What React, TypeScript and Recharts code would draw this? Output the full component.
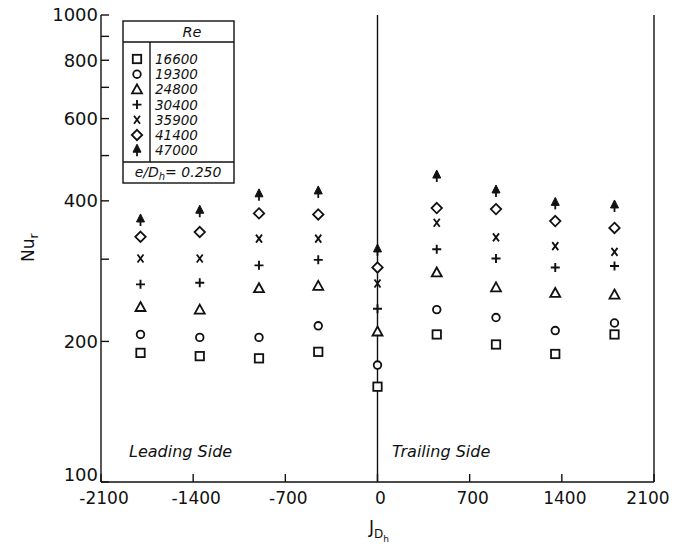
import React from "react";
import { ScatterChart, Scatter, XAxis, YAxis, ReferenceLine } from "recharts";

// rotation parameter J_Dh (leading side negative, trailing side positive)
const J_POS = [-1800, -1350, -900, -450, 0, 450, 900, 1350, 1800];

// Nu_r, one array per Reynolds number
const NU_16600 = [189, 186, 184, 190, 160, 207, 197, 188, 207];
const NU_19300 = [207, 204, 204, 216, 178, 234, 225, 211, 219];
const NU_24800 = [237, 234, 260, 263, 210, 281, 261, 254, 252];
const NU_30400 = [265, 267, 291, 299, 235, 315, 301, 288, 290];
const NU_35900 = [301, 301, 332, 332, 266, 359, 334, 320, 311];
const NU_41400 = [335, 343, 376, 374, 288, 386, 384, 362, 350];
const NU_47000 = [364, 380, 412, 418, 314, 452, 420, 395, 390];

const RE_LABELS = ["16600", "19300", "24800", "30400", "35900", "41400", "47000"];
const X_TICKS = [-2100, -1400, -700, 0, 700, 1400, 2100];
const Y_TICKS = [100, 200, 300, 400, 500, 600, 700, 800, 900, 1000];
const Y_LABELED = [100, 200, 400, 600, 800, 1000];

type Kind = "square" | "circle" | "triangle" | "plus" | "cross" | "diamond" | "arrow";
const KINDS: Kind[] = ["square", "circle", "triangle", "plus", "cross", "diamond", "arrow"];
const SERIES = [NU_16600, NU_19300, NU_24800, NU_30400, NU_35900, NU_41400, NU_47000];

const INK = "#111";
const FONT = "'DejaVu Sans', sans-serif";

function Glyph({ cx, cy, kind }: { cx: number; cy: number; kind: Kind }) {
  const s = { stroke: INK, strokeWidth: 1.8, fill: "#fff" };
  switch (kind) {
    case "square":
      return <rect x={cx - 4.2} y={cy - 4.2} width={8.4} height={8.4} {...s} />;
    case "circle":
      return <circle cx={cx} cy={cy} r={3.8} {...s} />;
    case "triangle":
      return <path d={`M${cx},${cy - 5} L${cx + 5},${cy + 4} L${cx - 5},${cy + 4} Z`} {...s} />;
    case "plus":
      return <path d={`M${cx - 4.5},${cy} H${cx + 4.5} M${cx},${cy - 4.5} V${cy + 4.5}`} stroke={INK} strokeWidth={1.9} />;
    case "cross":
      return <path d={`M${cx - 3},${cy - 4} L${cx + 3},${cy + 4} M${cx + 3},${cy - 4} L${cx - 3},${cy + 4}`} stroke={INK} strokeWidth={1.8} />;
    case "diamond":
      return <path d={`M${cx},${cy - 5.2} L${cx + 5.2},${cy} L${cx},${cy + 5.2} L${cx - 5.2},${cy} Z`} {...s} />;
    case "arrow":
      return (
        <g>
          <path d={`M${cx},${cy - 6} L${cx + 4},${cy + 2} L${cx - 4},${cy + 2} Z`} fill={INK} stroke={INK} strokeWidth={1} />
          <line x1={cx} x2={cx} y1={cy} y2={cy + 6} stroke={INK} strokeWidth={1.8} />
        </g>
      );
  }
  return null;
}

function Legend() {
  const rowY = (i: number) => 59 + i * 15.2;
  return (
    <g fontFamily={FONT} fontStyle="italic" fontSize={13.5} fill={INK}>
      <rect x={123} y={21} width={111} height={162} fill="#fff" stroke={INK} strokeWidth={1.4} />
      <line x1={123} x2={234} y1={42} y2={42} stroke={INK} strokeWidth={1.4} />
      <line x1={150} x2={150} y1={42} y2={162} stroke={INK} strokeWidth={1.4} />
      <line x1={123} x2={234} y1={162} y2={162} stroke={INK} strokeWidth={1.4} />
      <text x={192} y={37} textAnchor="middle" fontSize={14.5}>Re</text>
      {RE_LABELS.map((re, i) => (
        <g key={re}>
          <Glyph cx={137} cy={rowY(i)} kind={KINDS[i]} />
          <text x={155} y={rowY(i) + 5}>{re}</text>
        </g>
      ))}
      <text x={178} y={177} textAnchor="middle" fontSize={14}>
        e/D<tspan dy={3} fontSize={10}>h</tspan>
        <tspan dy={-3}>= 0.250</tspan>
      </text>
    </g>
  );
}

// bottom tick labels sit a touch right of the tick; the last one is kept inside the page
function XTick({ x, y, payload }: any) {
  const v = payload.value as number;
  const shift = v === 2100 ? -6 : 3;
  return (
    <text x={x + shift} y={y} dy="0.75em" textAnchor="middle" fill={INK} fontSize={17} fontFamily={FONT}>
      {String(v)}
    </text>
  );
}

// only some log ticks carry a number; "100" is lifted clear of the x labels
function YTick({ x, y, payload }: any) {
  const v = payload.value as number;
  if (!Y_LABELED.includes(v)) return <g />;
  return (
    <text x={x} y={y + (v === 100 ? -7 : 0)} dy="0.36em" textAnchor="end" fill={INK} fontSize={18} fontFamily={FONT}>
      {String(v)}
    </text>
  );
}

const axisStroke = { stroke: INK, strokeWidth: 1.4 };

export default function App() {
  return (
    <div style={{ position: "relative", width: 677, height: 552, margin: -8, background: "#fff" }}>
      <ScatterChart width={677} height={552} margin={{ top: 15, right: 22, bottom: 40, left: 41 }}>
        <XAxis
          xAxisId="b"
          dataKey="x"
          type="number"
          domain={[-2100, 2100]}
          ticks={X_TICKS}
          allowDataOverflow
          height={30}
          axisLine={axisStroke}
          tickLine={axisStroke}
          tickSize={-8}
          tickMargin={17}
          interval={0}
          tick={<XTick />}
        />
        <XAxis
          xAxisId="t"
          dataKey="x"
          orientation="top"
          type="number"
          domain={[-2100, 2100]}
          ticks={X_TICKS}
          allowDataOverflow
          height={0}
          axisLine={axisStroke}
          tickLine={axisStroke}
          tickSize={-8}
          tick={false}
        />
        <YAxis
          yAxisId="l"
          dataKey="y"
          type="number"
          scale="log"
          domain={[100, 1000]}
          ticks={Y_TICKS}
          allowDataOverflow
          width={60}
          axisLine={axisStroke}
          tickLine={axisStroke}
          tickSize={-8}
          tickMargin={11}
          interval={0}
          tick={<YTick />}
        />
        <YAxis
          yAxisId="r"
          dataKey="y"
          orientation="right"
          type="number"
          scale="log"
          domain={[100, 1000]}
          ticks={Y_TICKS}
          allowDataOverflow
          width={1}
          axisLine={axisStroke}
          tickLine={axisStroke}
          tickSize={-8}
          interval={0}
          tick={false}
        />
        <ReferenceLine xAxisId="b" yAxisId="l" x={0} stroke={INK} strokeWidth={1.4} />
        {/* invisible copy so the top and right frame axes have a series bound to them */}
        <Scatter
          xAxisId="t"
          yAxisId="r"
          data={J_POS.map((x, i) => ({ x, y: NU_30400[i] }))}
          isAnimationActive={false}
          shape={() => <g />}
        />
        {SERIES.map((vals, k) => (
          <Scatter
            key={RE_LABELS[k]}
            name={RE_LABELS[k]}
            xAxisId="b"
            yAxisId="l"
            data={J_POS.map((x, i) => ({ x, y: vals[i] }))}
            isAnimationActive={false}
            shape={(p: any) => <Glyph cx={p.cx} cy={p.cy} kind={KINDS[k]} />}
          />
        ))}
      </ScatterChart>
      <svg width={677} height={552} style={{ position: "absolute", left: 0, top: 0, pointerEvents: "none" }}>
        <Legend />
        <g fontFamily={FONT} fontStyle="italic" fontSize={16} fill={INK}>
          <text x={129} y={457}>Leading Side</text>
          <text x={392} y={457}>Trailing Side</text>
        </g>
        <g fontFamily={FONT} fontSize={17} fill={INK}>
          <text transform="translate(34,262) rotate(-90)">
            Nu<tspan dy={4} fontSize={12}>r</tspan>
          </text>
          <text x={369} y={533}>
            J<tspan dy={5} fontSize={12}>D</tspan>
            <tspan dy={4} fontSize={9}>h</tspan>
          </text>
        </g>
      </svg>
    </div>
  );
}
